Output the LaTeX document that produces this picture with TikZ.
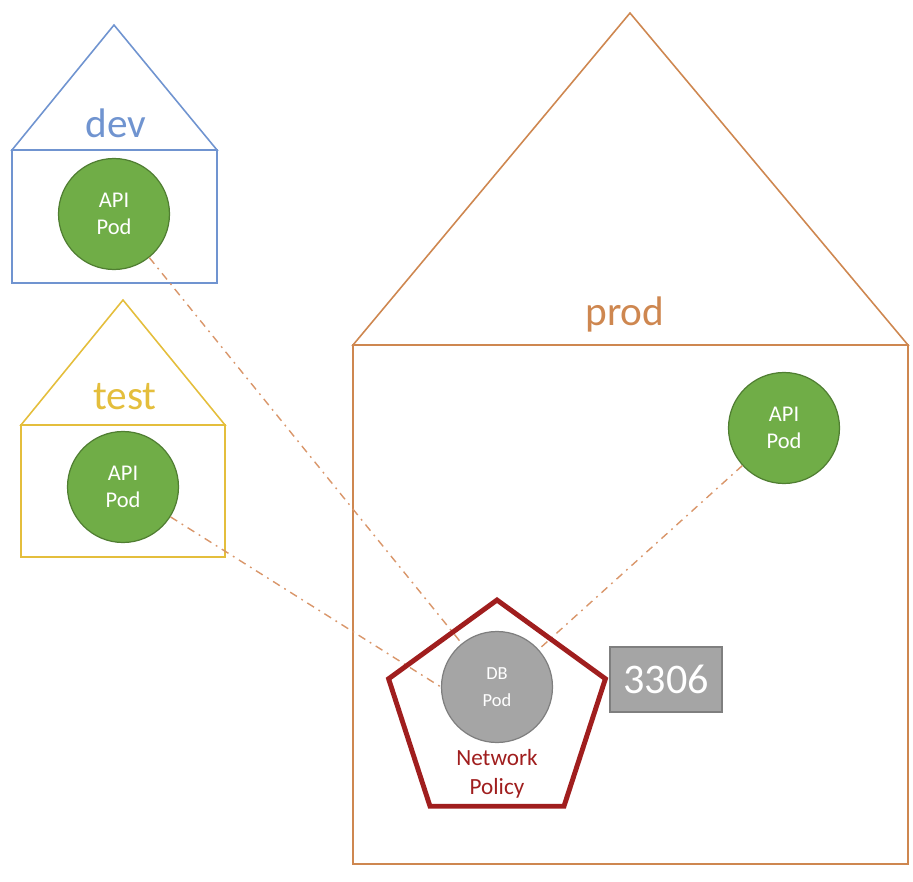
\documentclass[tikz,border=0pt]{standalone}
\usepackage{fontspec}
\setmainfont{Carlito}
\usetikzlibrary{shapes.geometric}

\definecolor{devblue}{HTML}{7094D0}
\definecolor{testgold}{HTML}{E4BE3C}
\definecolor{prodorange}{HTML}{CE8750}
\definecolor{podgreen}{HTML}{70AD47}
\definecolor{podedge}{HTML}{507E32}
\definecolor{dbgray}{HTML}{A5A5A5}
\definecolor{dbedge}{HTML}{7F7F7F}
\definecolor{policyred}{HTML}{A01E1E}
\definecolor{linkorange}{HTML}{D9966A}

\tikzstyle{house} = [line width=0.9pt]
\tikzstyle{envlabel} = [anchor=base, font=\fontsize{23.5}{28}\selectfont]
\tikzstyle{pod} = [circle, minimum size=2.22cm, inner sep=0pt, text=white, align=center]
\tikzstyle{apipod} = [pod, fill=podgreen, draw=podedge, line width=0.7pt, font=\fontsize{12.8}{15.3}\selectfont]
\tikzstyle{dbpod} = [pod, fill=dbgray, draw=dbedge, line width=0.7pt, font=\fontsize{10.5}{15}\selectfont]
\tikzstyle{link} = [draw=linkorange, line width=0.8pt, dash pattern=on 4.5pt off 3pt on 1pt off 3pt]

\begin{document}
\begin{tikzpicture}[x=0.02cm, y=-0.02cm]
    \useasboundingbox (0,0) rectangle (913,882);

    % namespaces
    \draw[house, devblue] (12,150) -- (114,25) -- (217,150) -- cycle;
    \draw[house, devblue] (12,150) rectangle (217,283);
    \draw[house, testgold] (21,425) -- (123,300) -- (225,425) -- cycle;
    \draw[house, testgold] (21,425) rectangle (225,557);
    \draw[house, prodorange] (353,345) -- (630,13) -- (908,345) -- cycle;
    \draw[house, prodorange] (353,345) rectangle (908,864);

    \node (devname) [envlabel, text=devblue] at (116,137) {dev};
    \node (testname) [envlabel, text=testgold] at (125,409) {test};
    \node (prodname) [envlabel, text=prodorange] at (625,325) {prod};

    % pods
    \node (devpod) [apipod] at (114,214) {API\\Pod};
    \node (testpod) [apipod] at (123,487) {API\\Pod};
    \node (prodpod) [apipod] at (784,428) {API\\Pod};
    \node (dbpod) [dbpod] at (497,687) {DB\\Pod};

    \draw[link] (devpod) -- (dbpod);
    \draw[link] (testpod) -- (dbpod.west);
    \draw[link] (prodpod) -- (dbpod);

    % policy
    \node (policy) [regular polygon, regular polygon sides=5, minimum size=4.56cm,
        draw=policyred, line width=2.8pt] at (497,714) {};
    \node (policyname) [text=policyred, align=center, font=\fontsize{13.2}{16.5}\selectfont]
        at (497,774) {Network\\Policy};
    \node (port) [rectangle, fill=dbgray, draw=dbedge, line width=0.8pt, minimum width=2.24cm,
        minimum height=1.3cm, text=white, font=\fontsize{24}{28}\selectfont] at (666,679.5) {3306};

\end{tikzpicture}
\end{document}
